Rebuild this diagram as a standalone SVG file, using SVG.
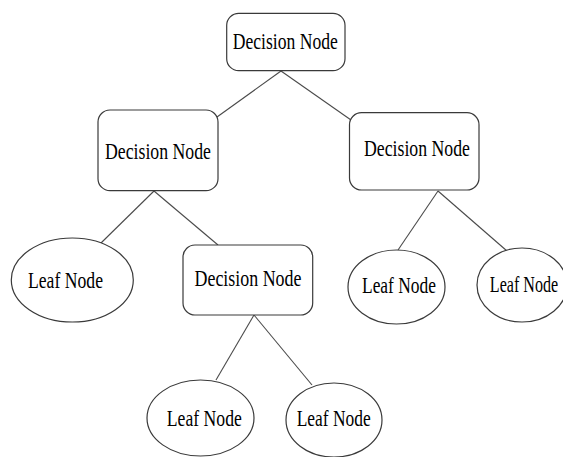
<svg xmlns="http://www.w3.org/2000/svg" width="563" height="457" viewBox="0 0 563 457">
<style>
.box{fill:#fff;stroke:#3a3a3a;stroke-width:1.2}
.leaf{fill:#fff;stroke:#3a3a3a;stroke-width:1.2}
.edge{stroke:#4a4a4a;stroke-width:1.1;fill:none}
.lbl{font-family:"Liberation Serif","Times New Roman",Times,"DejaVu Serif",serif;font-size:23px;fill:#000;text-anchor:middle}
</style>
<rect width="563" height="457" fill="#fff"/>
<g id="connectors">
<line class="edge" x1="281" y1="71" x2="217" y2="117"/>
<line class="edge" x1="281" y1="71" x2="351" y2="120"/>
<line class="edge" x1="154" y1="191" x2="101" y2="243"/>
<line class="edge" x1="154" y1="191" x2="218" y2="245"/>
<line class="edge" x1="438" y1="191" x2="398" y2="250"/>
<line class="edge" x1="438" y1="191" x2="507" y2="251"/>
<line class="edge" x1="254" y1="315" x2="216" y2="380"/>
<line class="edge" x1="254" y1="315" x2="312" y2="385"/>
</g>
<g id="root">
<rect class="box" x="226.7" y="13.3" width="118.3" height="57.4" rx="12"/>
<text class="lbl" x="285.3" y="49" textLength="105" lengthAdjust="spacingAndGlyphs">Decision Node</text>
</g>
<g id="decision-left">
<rect class="box" x="98" y="110" width="120" height="80.7" rx="12"/>
<text class="lbl" x="158" y="159" textLength="106" lengthAdjust="spacingAndGlyphs">Decision Node</text>
</g>
<g id="decision-right">
<rect class="box" x="349.5" y="112.7" width="129.5" height="77.3" rx="12"/>
<text class="lbl" x="417" y="156" textLength="106" lengthAdjust="spacingAndGlyphs">Decision Node</text>
</g>
<g id="decision-middle">
<rect class="box" x="183" y="245" width="129.7" height="70" rx="12"/>
<text class="lbl" x="248" y="286" textLength="107" lengthAdjust="spacingAndGlyphs">Decision Node</text>
</g>
<g id="leaf-1">
<ellipse class="leaf" cx="72.3" cy="280" rx="61" ry="42"/>
<text class="lbl" x="65.5" y="287.5" textLength="75" lengthAdjust="spacingAndGlyphs">Leaf Node</text>
</g>
<g id="leaf-2">
<ellipse class="leaf" cx="396.5" cy="287" rx="48.5" ry="37"/>
<text class="lbl" x="399" y="292.5" textLength="74" lengthAdjust="spacingAndGlyphs">Leaf Node</text>
</g>
<g id="leaf-3">
<ellipse class="leaf" cx="522" cy="285" rx="45" ry="37"/>
<text class="lbl" transform="translate(524 291.5) scale(0.7 1)">Leaf Node</text>
</g>
<g id="leaf-4">
<ellipse class="leaf" cx="200.5" cy="418" rx="53.5" ry="38"/>
<text class="lbl" x="204.3" y="426" textLength="75" lengthAdjust="spacingAndGlyphs">Leaf Node</text>
</g>
<g id="leaf-5">
<ellipse class="leaf" cx="334" cy="420" rx="48" ry="37"/>
<text class="lbl" x="333.7" y="425.5" textLength="74" lengthAdjust="spacingAndGlyphs">Leaf Node</text>
</g>
</svg>
